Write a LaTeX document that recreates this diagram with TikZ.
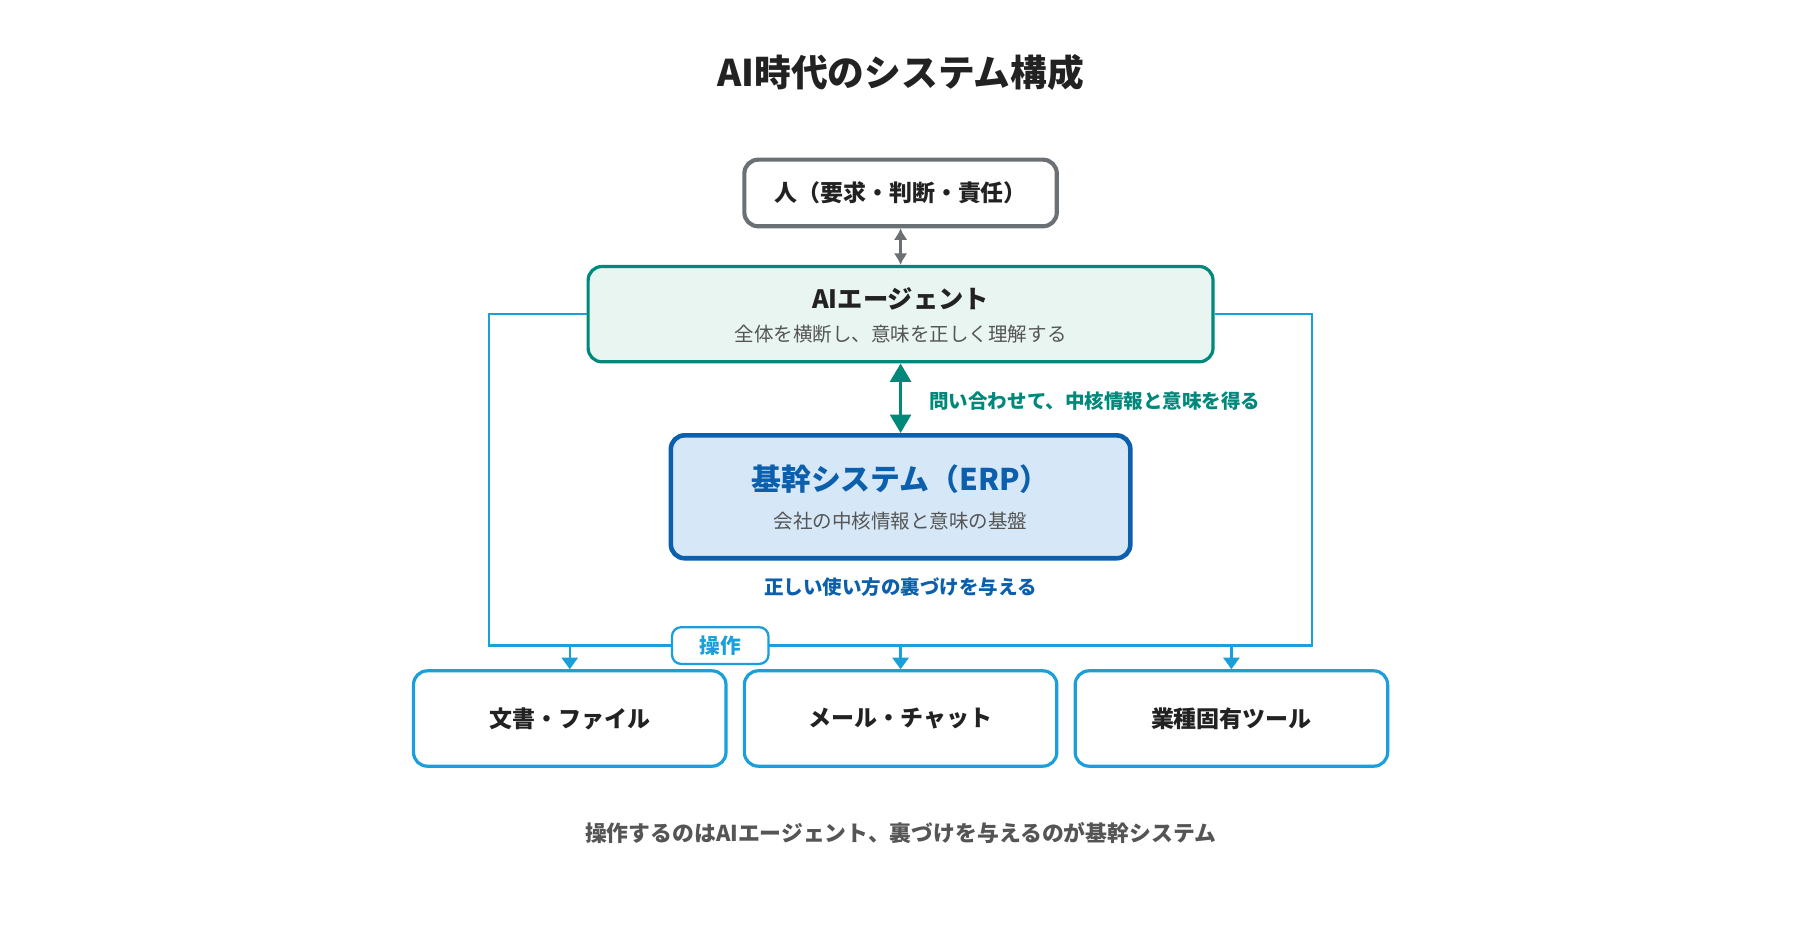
\documentclass[tikz,border=0pt]{standalone}
\usepackage{fontspec}
\setmainfont{Noto Sans CJK JP}
\usetikzlibrary{arrows.meta,positioning}
\definecolor{ink}{HTML}{222222}
\definecolor{greyline}{HTML}{6B7075}
\definecolor{teal}{HTML}{00897B}
\definecolor{tealfill}{HTML}{E8F5F1}
\definecolor{erpblue}{HTML}{0B5FAD}
\definecolor{erpfill}{HTML}{D6E8F7}
\definecolor{opblue}{HTML}{1A9FDB}
\definecolor{subgrey}{HTML}{555555}
\tikzset{
  box/.style={draw, rounded corners=6pt, line width=1.4pt, align=center, inner sep=0pt},
  tool/.style={box, draw=opblue, fill=white, minimum width=136pt, minimum height=41.5pt,
    font=\fontsize{10}{12}\selectfont\bfseries, text=ink},
  optip/.style={-{Triangle[length=5pt,width=7pt]}, opblue, line width=1pt}
}
\begin{document}
\begin{tikzpicture}[x=0.5pt,y=-0.5pt]
\useasboundingbox (0,0) rectangle (1567,806);

\node[font=\fontsize{16}{19}\selectfont\bfseries, text=ink] (title) at (784,63) {AI時代のシステム構成};

% people and agent
\node[box, draw=greyline, line width=1.8pt, fill=white, minimum width=136pt, minimum height=29pt,
  font=\fontsize{10}{12}\selectfont\bfseries, text=ink] (human) at (784,168) {人（要求・判断・責任）};
\node[box, draw=teal, fill=tealfill, minimum width=272pt, minimum height=41.5pt] (agent) at (784,273.5) {};
\node[font=\fontsize{11}{13}\selectfont\bfseries, text=ink] (agenttitle) at (784,260) {AIエージェント};
\node[font=\fontsize{8.5}{10}\selectfont, text=subgrey] (agentsub) at (784,291) {全体を横断し、意味を正しく理解する};
\draw[{Latex[length=5pt,width=6pt]}-{Latex[length=5pt,width=6pt]}, greyline, line width=1.2pt] (human) -- (agent);

% ERP
\node[box, draw=erpblue, fill=erpfill, line width=2pt, minimum width=200pt, minimum height=53.5pt] (erp) at (784,432.5) {};
\node[font=\fontsize{13}{15}\selectfont\bfseries, text=erpblue] (erptitle) at (784,417) {基幹システム（ERP）};
\node[font=\fontsize{8.5}{10}\selectfont, text=subgrey] (erpsub) at (784,454) {会社の中核情報と意味の基盤};
\draw[{Triangle[length=8pt,width=9pt]}-{Triangle[length=8pt,width=9pt]}, teal, line width=1.5pt] (agent) -- (erp);
\node[anchor=west, font=\fontsize{8.5}{10}\selectfont\bfseries, text=teal] (asklabel) at (802,349) {問い合わせて、中核情報と意味を得る};
\node[font=\fontsize{8.5}{10}\selectfont\bfseries, text=erpblue] (backlabel) at (784,511) {正しい使い方の裏づけを与える};

% tools
\node[tool] (docs) at (496,625.5) {文書・ファイル};
\node[tool] (mail) at (784,625.5) {メール・チャット};
\node[tool] (trade) at (1072,625.5) {業種固有ツール};

\coordinate (busleft) at (426,562);
\coordinate (busright) at (1142,562);
\draw[opblue, line width=1pt] (agent.west) -| (busleft) -- (busright) |- (agent.east);
\draw[optip] (docs.north |- busleft) -- (docs);
\draw[optip] (mail.north |- busleft) -- (mail);
\draw[optip] (trade.north |- busleft) -- (trade);
\node[box, draw=opblue, fill=white, line width=1pt, rounded corners=4pt, minimum width=42pt, minimum height=16pt,
  font=\fontsize{9}{11}\selectfont\bfseries, text=opblue] (oplabel) at (627,562) {操作};

\node[font=\fontsize{9.5}{11}\selectfont\bfseries, text=subgrey] (footer) at (784,725) {操作するのはAIエージェント、裏づけを与えるのが基幹システム};
\end{tikzpicture}
\end{document}
